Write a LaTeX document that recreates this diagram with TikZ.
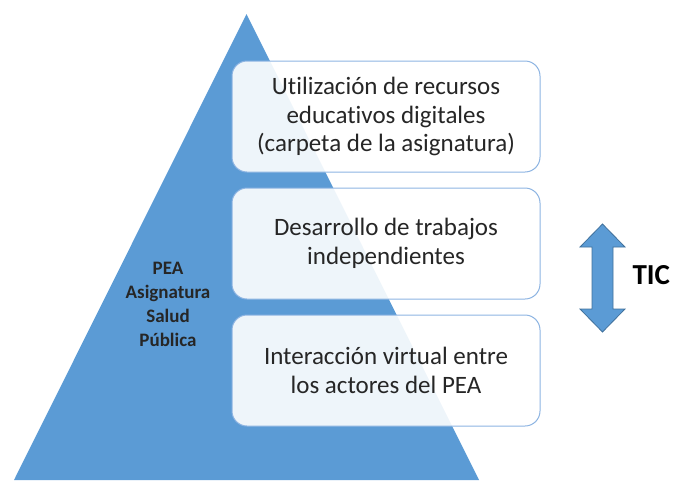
\documentclass[tikz,border=0pt]{standalone}
\usepackage{fontspec}
\setmainfont[Ligatures=NoCommon]{Carlito}
\usetikzlibrary{positioning,calc}
\definecolor{pyrblue}{HTML}{5B9BD5}
\definecolor{boxline}{HTML}{8DB4E2}
\definecolor{arrline}{HTML}{41719C}
\begin{document}
\begin{tikzpicture}
[x=1pt, y=-1pt, every node/.style={text=black!85}]
% Define styles for the stage boxes and labels
\tikzstyle{stage} = [draw=boxline, line width=1pt, fill=white, fill opacity=0.9, text opacity=1, rectangle, rounded corners=15pt, minimum width=308pt, minimum height=111pt, align=center, font=\fontsize{25}{28.5}\selectfont]
\tikzstyle{base} = [align=center, font=\bfseries\fontsize{19}{24}\selectfont]
\tikzstyle{tic} = [font=\bfseries\fontsize{29}{32}\selectfont, text=black]

\useasboundingbox (0,0) rectangle (673,480);

% Pyramid
\fill[pyrblue] (14,480) -- (246.5,14) -- (479,480) -- cycle;
\node [base] (pea) at (168,304) {PEA\\Asignatura\\Salud\\Pública};

% Nodes placement
\node [stage] (recursos) at (386,116.5) {Utilización de recursos\\educativos digitales\\(carpeta de la asignatura)};
\node [stage, below=15pt of recursos] (trabajos) {Desarrollo de trabajos\\independientes};
\node [stage, below=15pt of trabajos] (interaccion) {Interacción virtual entre\\los actores del PEA};

% Double arrow
\coordinate (arr) at (602.5,278);
\draw[fill=pyrblue, draw=arrline, line width=0.8pt]
  ($(arr)+(0,-54)$) -- ++(22.5,23) -- ++(-12,0) -- ++(0,62) -- ++(12,0)
  -- ($(arr)+(0,54)$) -- ++(-22.5,-23) -- ++(12,0) -- ++(0,-62) -- ++(-12,0) -- cycle;
\node [tic, anchor=west] (ticlabel) at (629,275) {TIC};
\end{tikzpicture}
\end{document}
